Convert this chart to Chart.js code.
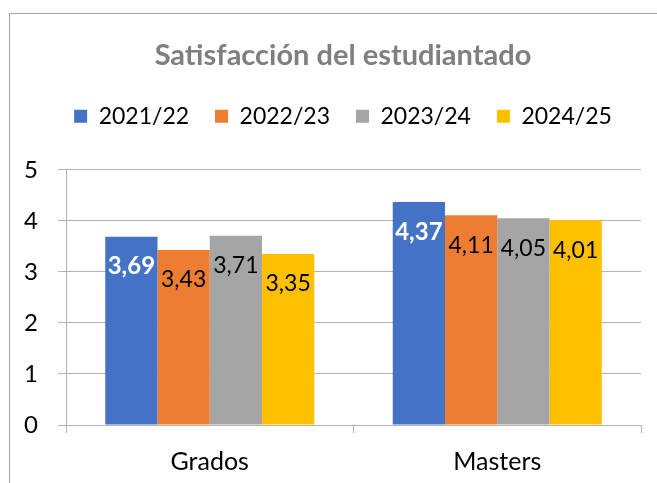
<!DOCTYPE html>
<html>
<head>
<meta charset="utf-8">
<style>
  html, body { margin: 0; padding: 0; background: #fff; }
  #wrap { width: 657px; height: 483px; position: relative; }
</style>
<script src="https://cdn.jsdelivr.net/npm/chart.js@4"></script>
</head>
<body>
<div id="wrap"><canvas id="c" width="657" height="483"></canvas></div>
<script>
const categories = ["Grados", "Masters"];
const seriesNames = ["2021/22", "2022/23", "2023/24", "2024/25"];
const v2122 = [3.69, 4.37];
const v2223 = [3.43, 4.11];
const v2324 = [3.71, 4.05];
const v2425 = [3.35, 4.01];
const yTicks = [0, 1, 2, 3, 4, 5];

const colors = ["#4472C4", "#ED7D31", "#A5A5A5", "#FFC000"];
const FONT = "Lato, 'Open Sans', sans-serif";
const PAD_LEFT = 45;

// marco del gráfico (solo se ven el borde izquierdo y el superior)
const framePlugin = {
  id: "frame",
  beforeDraw(chart) {
    const ctx = chart.ctx;
    ctx.save();
    ctx.strokeStyle = "#a6a6a6";
    ctx.lineWidth = 1;
    ctx.strokeRect(9.5, 13.5, 700, 600);
    ctx.restore();
  },
};

// espacio extra bajo la leyenda
const legendGap = {
  id: "legendGap",
  beforeInit(chart) {
    const fit = chart.legend.fit;
    chart.legend.fit = function () {
      fit.bind(chart.legend)();
      this.height += 32;
    };
  },
  // el eje Y empieza en 0 para que no se recorten sus etiquetas
  afterLayout(chart) {
    chart.scales.y.left = 0;
  },
};

// etiquetas de valor dentro de las barras
const labelsPlugin = {
  id: "barLabels",
  afterDatasetsDraw(chart) {
    const ctx = chart.ctx;
    ctx.save();
    ctx.textAlign = "center";
    ctx.textBaseline = "middle";
    chart.data.datasets.forEach((ds, i) => {
      const meta = chart.getDatasetMeta(i);
      meta.data.forEach((bar, j) => {
        const txt = ds.data[j].toFixed(2).replace(".", ",");
        if (i === 0) {
          ctx.fillStyle = "#ffffff";
          ctx.font = "bold 24px " + FONT;
        } else {
          ctx.fillStyle = "#000000";
          ctx.font = "23px " + FONT;
        }
        ctx.fillText(txt, bar.x, bar.y + 30);
      });
    });
    ctx.restore();
  },
};

const valueLists = [v2122, v2223, v2324, v2425];

new Chart(document.getElementById("c"), {
  type: "bar",
  data: {
    labels: categories,
    datasets: seriesNames.map((name, i) => ({
      label: name,
      data: valueLists[i],
      backgroundColor: colors[i],
      borderWidth: 0,
      barPercentage: 1,
      categoryPercentage: 0.727,
    })),
  },
  options: {
    responsive: false,
    animation: false,
    devicePixelRatio: 1,
    layout: { padding: { left: PAD_LEFT, right: 16, top: 0, bottom: 0 } },
    plugins: {
      title: {
        display: true,
        text: "Satisfacción del estudiantado",
        color: "#7f7f7f",
        font: { family: FONT, size: 29, weight: "bold" },
        padding: { top: 38, bottom: 6 },
      },
      legend: {
        display: true,
        labels: {
          color: "#000",
          font: { family: FONT, size: 23 },
          boxWidth: 13,
          boxHeight: 13,
          padding: 26,
        },
      },
      tooltip: { enabled: false },
    },
    scales: {
      x: {
        afterFit(scale) {
          scale.height = 58;
        },
        grid: {
          drawOnChartArea: false,
          drawTicks: true,
          tickLength: 8,
          color: "#b3b3b3",
          offset: true,
        },
        border: { color: "#b3b3b3" },
        ticks: {
          color: "#000",
          font: { family: FONT, size: 25 },
          padding: 14,
        },
      },
      y: {
        min: 0,
        max: 5,
        afterBuildTicks(scale) {
          scale.ticks = yTicks.map((v) => ({ value: v }));
        },
        afterFit(scale) {
          scale.width = 66 - PAD_LEFT;
        },
        grid: { color: "#b3b3b3", tickLength: 8 },
        border: { color: "#b3b3b3" },
        ticks: {
          color: "#000",
          font: { family: FONT, size: 24 },
          padding: 20,
        },
      },
    },
  },
  plugins: [framePlugin, legendGap, labelsPlugin],
});
</script>
</body>
</html>
